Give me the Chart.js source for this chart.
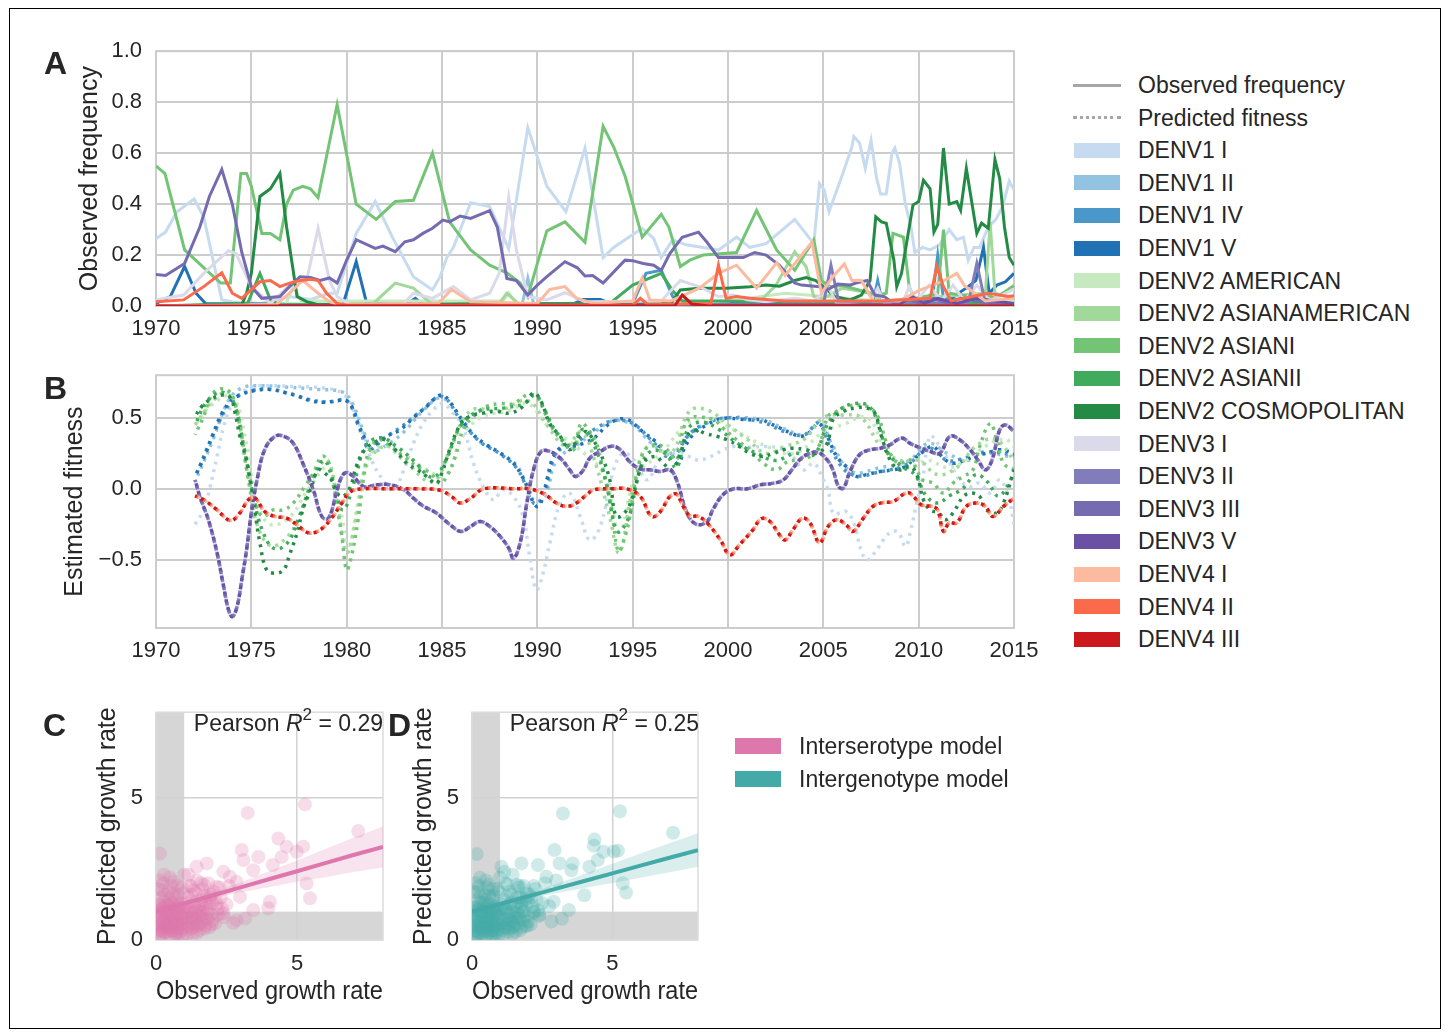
<!DOCTYPE html>
<html>
<head>
<meta charset="utf-8">
<script src="https://cdn.jsdelivr.net/npm/chart.js@4.4.0/dist/chart.umd.min.js"></script>
<style>
  body { margin: 0; background: #fff; }
  #page { position: relative; width: 1446px; height: 1032px; overflow: hidden;
          font-family: "Liberation Sans", Arial, sans-serif; color: #262626; }
  #page canvas { position: absolute; }
  .frame { position: absolute; left: 9px; top: 8px; width: 1432px; height: 1021px;
           border: 1.5px solid #000; box-sizing: border-box; }
  .letter { position: absolute; font-weight: bold; font-size: 32px; line-height: 36px; }
  .leg { position: absolute; font-size: 23px; line-height: 26px; white-space: nowrap; }
  .sw { position: absolute; width: 46px; height: 15px; }
  .pearson { position: absolute; font-size: 23px; line-height: 26px; white-space: nowrap; text-align: right; }
  .pearson sup { font-size: 17px; line-height: 0; position: relative; top: -2px; }
</style>
</head>
<body>
<div id="page">
  <div class="frame"></div>
  <canvas id="chartA" width="1010" height="336" style="left:40px;top:24px"></canvas>
  <canvas id="chartB" width="1010" height="322" style="left:40px;top:348px"></canvas>
  <canvas id="chartC" width="360" height="334" style="left:40px;top:686px"></canvas>
  <canvas id="chartD" width="330" height="334" style="left:400px;top:686px"></canvas>
  <div class="letter" style="left:44px;top:45px">A</div>
  <div class="letter" style="left:44px;top:370px">B</div>
  <div class="letter" style="left:43px;top:707px">C</div>
  <div class="letter" style="left:388px;top:707px">D</div>
  <div class="pearson" style="right:1063px;top:710px">Pearson <i>R</i><sup>2</sup> = 0.29</div>
  <div class="pearson" style="right:747px;top:710px">Pearson <i>R</i><sup>2</sup> = 0.25</div>
  <div id="legendRight"></div>
  <div id="legendModels"></div>
</div>
<script>
// ---------------- data ----------------
const genotypes = ['DENV1 I', 'DENV1 II', 'DENV1 IV', 'DENV1 V',
  'DENV2 AMERICAN', 'DENV2 ASIANAMERICAN', 'DENV2 ASIANI', 'DENV2 ASIANII', 'DENV2 COSMOPOLITAN',
  'DENV3 I', 'DENV3 II', 'DENV3 III', 'DENV3 V',
  'DENV4 I', 'DENV4 II', 'DENV4 III'];
const colors = ['#c6dbef', '#92c3e0', '#4a98c9', '#2171b5',
  '#c7e9c0', '#a1d99b', '#74c476', '#41ab5d', '#238b45',
  '#dadaeb', '#807dba', '#756bb1', '#6a51a3',
  '#fcbba1', '#fb6a4a', '#cb181d'];

const yearTicks = [1970, 1975, 1980, 1985, 1990, 1995, 2000, 2005, 2010, 2015];

// panel A: observed frequency, [year, frequency]
const obsD1I = [[1970,0.265],[1970.5,0.29],[1971.1,0.37],[1972,0.42],[1972.5,0.35],[1973.45,0.024],[1974,0.017],[1975.5,0.01],[1977,0.037],[1978.1,0.026],[1979.1,0.05],[1979.5,0.05],[1980.5,0.285],[1981.5,0.41],[1982.4,0.27],[1983.5,0.115],[1984.5,0.063],[1984.9,0.115],[1985.25,0.19],[1985.6,0.23],[1986.5,0.405],[1987.5,0.39],[1988.5,0.225],[1989.5,0.70],[1990.5,0.47],[1991.5,0.37],[1992.5,0.62],[1993.45,0.19],[1994,0.23],[1994.6,0.26],[1995.5,0.305],[1996.1,0.265],[1996.5,0.19],[1997.1,0.26],[1997.8,0.24],[1998.7,0.23],[1999.5,0.22],[2000.45,0.27],[2001.15,0.23],[2002,0.245],[2003.5,0.34],[2004.5,0.245],[2004.8,0.48],[2005.05,0.455],[2005.3,0.37],[2006,0.515],[2006.5,0.625],[2006.6,0.665],[2006.9,0.64],[2007.2,0.54],[2007.5,0.65],[2007.8,0.50],[2008,0.44],[2008.3,0.44],[2008.6,0.60],[2008.75,0.62],[2009,0.56],[2009.3,0.40],[2009.6,0.31],[2009.8,0.21],[2010.2,0.23],[2010.6,0.22],[2011.1,0.24],[2011.6,0.30],[2012,0.26],[2012.35,0.27],[2012.6,0.18],[2012.9,0.23],[2013.2,0.23],[2013.65,0.31],[2014.05,0.34],[2014.4,0.39],[2014.75,0.49],[2015,0.455]];
const obsD1II = [[1970,0],[1989.2,0.005],[1989.5,0.11],[1989.8,0.01],[2003,0.01],[2015,0.005]];
const obsD1IV = [[1970,0],[1995,0.01],[1995.7,0.128],[1996.5,0.14],[1997.1,0.037],[1997.6,0.005],[2007.6,0.01],[2007.85,0.10],[2008.1,0.01],[2010.7,0.02],[2011,0.20],[2011.3,0.03],[2015,0.01]];
const obsD1V = [[1970,0.01],[1970.75,0.037],[1971.5,0.155],[1972.1,0.05],[1972.6,0.01],[1979.8,0.005],[1980.5,0.174],[1981.05,0.01],[1983.2,0.01],[1983.6,0.03],[1984,0.005],[1991.8,0.005],[1992.4,0.026],[1993.3,0.026],[1994,0.005],[2011.5,0.02],[2012.6,0.076],[2013,0.1],[2013.4,0.23],[2013.7,0.05],[2014.1,0.082],[2014.55,0.095],[2015,0.128]];
const obsD2AM = [[1970,0],[1976.8,0.005],[1977.2,0.08],[1977.6,0.02],[1988.2,0.02],[1988.5,0.052],[1988.9,0.01],[1996,0.01],[2000,0.02],[2003,0.05],[2008,0.02],[2015,0.02]];
const obsD2AA = [[1970,0],[1981.4,0.01],[1982.55,0.09],[1983.5,0.07],[1984.5,0.005],[1988,0.01],[1988.4,0.05],[1989,0.01],[2001.5,0.005],[2002.5,0.08],[2003.5,0.213],[2004.1,0.154],[2004.5,0.037],[2005,0.03],[2006,0.07],[2007.6,0.05],[2008,0.02],[2013.5,0.05],[2013.75,0.33],[2014,0.05],[2015,0.03]];
const obsD2AI = [[1970,0.55],[1970.47,0.52],[1971.5,0.22],[1972.8,0.13],[1973.4,0.09],[1973.9,0.09],[1974.45,0.52],[1974.75,0.52],[1975,0.47],[1975.55,0.285],[1976,0.285],[1976.5,0.26],[1976.85,0.40],[1977.2,0.455],[1977.7,0.47],[1978.1,0.46],[1978.5,0.425],[1979.5,0.79],[1980.5,0.40],[1981.55,0.34],[1982.55,0.41],[1983.5,0.415],[1984.5,0.60],[1985.4,0.33],[1986.5,0.22],[1987.5,0.16],[1988.4,0.13],[1989.1,0.09],[1989.5,0.037],[1990.05,0.18],[1990.5,0.295],[1991.45,0.33],[1992.5,0.25],[1993.45,0.705],[1994,0.625],[1994.6,0.51],[1995.5,0.27],[1996.5,0.36],[1996.9,0.31],[1997.5,0.155],[1998,0.18],[1998.7,0.2],[1999.6,0.205],[2000.45,0.21],[2001.5,0.375],[2002.55,0.22],[2003.5,0.14],[2004.5,0.26],[2004.9,0.10],[2005.35,0.076],[2006,0.08],[2007,0.06],[2007.7,0.04],[2008.3,0.05],[2008.65,0.285],[2009.2,0.27],[2009.5,0.076],[2009.8,0.03],[2010.5,0.04],[2011,0.05],[2011.3,0.30],[2011.6,0.05],[2012.5,0.04],[2013,0.03],[2013.4,0.05],[2014,0.03],[2014.6,0.06],[2015,0.08]];
const obsD2AII = [[1970,0],[1974.8,0.01],[1975.45,0.128],[1976,0.024],[1976.5,0.005],[1993.8,0.01],[1995,0.082],[1996.5,0.128],[1997.1,0.06],[1997.6,0.02],[2000,0.02],[2005,0.01],[2015,0.01]];
const obsD2COS = [[1970,0],[1974.5,0.005],[1974.75,0.05],[1975,0.128],[1975.45,0.43],[1976,0.46],[1976.5,0.52],[1976.85,0.31],[1977.4,0.037],[1977.9,0.017],[1978.5,0.005],[1997,0.01],[1997.5,0.063],[1998.5,0.07],[1999.9,0.07],[2001.15,0.076],[2002,0.082],[2002.7,0.078],[2003.5,0.10],[2004.1,0.112],[2004.6,0.10],[2005.1,0.07],[2005.6,0.037],[2006.4,0.024],[2007,0.043],[2007.45,0.10],[2007.75,0.35],[2008.05,0.33],[2008.3,0.325],[2008.7,0.18],[2008.85,0.076],[2009.1,0.128],[2009.45,0.285],[2009.7,0.396],[2010,0.41],[2010.25,0.494],[2010.6,0.46],[2010.8,0.29],[2011,0.32],[2011.3,0.62],[2011.6,0.40],[2012,0.41],[2012.2,0.376],[2012.5,0.54],[2013.05,0.285],[2013.3,0.325],[2013.65,0.305],[2014,0.575],[2014.25,0.50],[2014.5,0.31],[2014.75,0.19],[2015,0.16]];
const obsD3I = [[1970,0.024],[1971.45,0.043],[1972.5,0.128],[1973.8,0.217],[1974.2,0.206],[1975,0.076],[1976,0.01],[1977.2,0.095],[1977.9,0.10],[1978.5,0.305],[1979.1,0.10],[1979.5,0.037],[1980.2,0.005],[1983,0.01],[1983.5,0.05],[1984.5,0.03],[1985.6,0.076],[1986.5,0.024],[1987.5,0.05],[1988,0.128],[1988.5,0.426],[1988.9,0.22],[1989.5,0.037],[1990.5,0.024],[1991.45,0.052],[1992.5,0.017],[1996.5,0.02],[1997.5,0.10],[1998.5,0.076],[1999.5,0.037],[2000.3,0.043],[2001,0.024],[2002,0.017],[2003.5,0.03],[2004.5,0.02],[2005.3,0.07],[2005.7,0.01],[2007.5,0.02],[2007.85,0.07],[2008.2,0.01],[2009.2,0.02],[2009.5,0.076],[2009.9,0.02],[2010.55,0.082],[2011.2,0.02],[2011.8,0.082],[2012.4,0.02],[2013.05,0.082],[2013.7,0.02],[2014.3,0.04],[2014.9,0.063],[2015,0.06]];
const obsD3II = [[1970,0],[2005,0.005],[2005.4,0.16],[2005.8,0.02],[2012.6,0.01],[2013.05,0.167],[2013.5,0.01],[2015,0.005]];
const obsD3III = [[1970,0.124],[1970.5,0.12],[1971.5,0.167],[1972.3,0.31],[1972.8,0.43],[1973.45,0.536],[1974,0.40],[1974.5,0.21],[1975,0.076],[1975.55,0.03],[1976.5,0.037],[1977,0.076],[1977.55,0.115],[1978.1,0.112],[1978.6,0.10],[1979.1,0.11],[1979.5,0.09],[1980,0.18],[1980.5,0.26],[1981.5,0.226],[1981.9,0.235],[1982.55,0.213],[1983.05,0.252],[1983.5,0.26],[1984,0.285],[1984.5,0.305],[1985.05,0.337],[1985.4,0.33],[1985.95,0.353],[1986.5,0.344],[1987.5,0.374],[1987.9,0.31],[1988.1,0.23],[1988.4,0.108],[1988.9,0.10],[1989.5,0.043],[1990,0.082],[1990.5,0.115],[1991.45,0.174],[1992.1,0.15],[1992.5,0.118],[1992.9,0.12],[1993.45,0.09],[1994.6,0.18],[1995,0.178],[1995.55,0.167],[1996.1,0.16],[1996.5,0.14],[1996.95,0.206],[1997.6,0.27],[1998.45,0.29],[1998.9,0.25],[1999.5,0.19],[2000.8,0.19],[2001.4,0.21],[2002,0.20],[2002.7,0.16],[2003.5,0.09],[2003.85,0.082],[2004.8,0.076],[2005.2,0.063],[2005.75,0.086],[2006.4,0.082],[2006.7,0.09],[2007.3,0.10],[2007.7,0.043],[2008.2,0.037],[2008.7,0.01],[2009.5,0.03],[2010,0.01],[2010.8,0.03],[2011.5,0.01],[2012.2,0.03],[2013,0.02],[2014,0.01],[2015,0.01]];
const obsD3V = [[1970,0],[2009,0.005],[2009.6,0.04],[2010.3,0.01],[2011,0.03],[2012,0.01],[2013,0.03],[2015,0.01]];
const obsD4I = [[1970,0],[1976.3,0.005],[1977,0.05],[1977.7,0.10],[1978.5,0.05],[1979.1,0.017],[1979.6,0.005],[1984.8,0.01],[1985.5,0.065],[1986.5,0.017],[1990,0.01],[1990.65,0.065],[1991.45,0.076],[1992.05,0.03],[1993,0.01],[1995,0.02],[1995.5,0.11],[1995.9,0.024],[1997,0.02],[1998.5,0.07],[1999.5,0.128],[2000.45,0.16],[2001.5,0.07],[2002.55,0.17],[2003,0.12],[2004.4,0.25],[2004.9,0.05],[2005.5,0.115],[2006.1,0.165],[2006.5,0.10],[2007,0.10],[2007.6,0.02],[2009,0.02],[2010,0.06],[2011.35,0.10],[2012,0.128],[2012.4,0.08],[2013.5,0.02],[2015,0.03]];
const obsD4II = [[1970,0.017],[1971.45,0.024],[1972.5,0.076],[1973.45,0.13],[1974,0.05],[1974.5,0.03],[1975.45,0.095],[1976,0.10],[1976.5,0.076],[1977,0.09],[1977.55,0.10],[1978.1,0.105],[1978.5,0.10],[1978.95,0.05],[1979.5,0.01],[1980,0.003],[1995,0.003],[1995.4,0.03],[1995.8,0.005],[1999.1,0.01],[1999.5,0.16],[1999.9,0.03],[2000.45,0.037],[2001.15,0.03],[2003,0.02],[2005,0.02],[2008,0.02],[2010.6,0.03],[2010.95,0.155],[2011.3,0.076],[2011.7,0.02],[2013.65,0.05],[2014.7,0.037],[2015,0.04]];
const obsD4III = [[1970,0],[1997.2,0],[1997.6,0.043],[1998.1,0.008],[1999,0],[2015,0]];

// panel B: estimated fitness, [year, fitness]
const fitD1I = [[1972.05,-0.25],[1972.5,-0.148],[1972.8,-0.007],[1973.2,0.228],[1973.55,0.44],[1974,0.60],[1974.4,0.67],[1975.1,0.72],[1976.15,0.725],[1977.4,0.72],[1978.8,0.71],[1979.8,0.67],[1980.35,0.556],[1980.9,0.37],[1981.3,0.204],[1981.9,0.063],[1982.45,-0.007],[1983,0.134],[1983.5,0.32],[1984,0.46],[1984.55,0.556],[1985.05,0.60],[1985.6,0.53],[1986.1,0.44],[1986.65,0.18],[1987.2,0.005],[1987.7,-0.077],[1988.2,-0.007],[1988.75,-0.054],[1989.25,-0.195],[1989.6,-0.476],[1989.95,-0.71],[1990.3,-0.594],[1990.65,-0.383],[1991.2,-0.10],[1991.7,-0.03],[1992.25,-0.195],[1992.75,-0.36],[1993.3,-0.265],[1994,0.134],[1994.5,0.25],[1995.1,0.2],[1995.75,0.063],[1996.45,0.204],[1997.5,0.25],[1998.35,0.204],[1998.9,0.216],[1999.6,0.263],[2000.3,0.298],[2001.15,0.293],[2002,0.298],[2002.7,0.286],[2003.4,0.228],[2003.95,0.134],[2004.5,0.18],[2005,0.063],[2005.25,-0.007],[2005.5,-0.17],[2005.9,-0.17],[2006.2,-0.16],[2006.6,-0.24],[2007,-0.44],[2007.3,-0.5],[2007.7,-0.45],[2008.15,-0.36],[2008.6,-0.30],[2008.95,-0.31],[2009.3,-0.405],[2009.55,-0.31],[2009.9,-0.10],[2010.2,0.063],[2010.6,0.37],[2011.1,0.30],[2011.65,0.18],[2012.15,0.063],[2012.7,0.016],[2013.2,0.04],[2013.75,-0.03],[2014.25,0.063],[2014.7,-0.054],[2015,-0.25]];
const fitD1II = [[1972.05,0.05],[1973,0.35],[1973.8,0.62],[1974.5,0.71],[1975.5,0.725],[1977,0.715],[1978.5,0.7],[1979.8,0.68],[1980.3,0.6],[1980.9,0.4],[1981.4,0.27],[1982,0.3],[1983,0.4],[1984,0.55],[1985,0.64],[1986,0.5],[1987,0.33],[1988,0.26],[1989,0.15],[1989.8,-0.08],[1990.4,-0.05],[1991,0.2],[1992,0.3],[1993,0.4],[1994,0.48],[1995,0.45],[1996,0.32],[1997,0.25],[1998,0.38],[1999,0.47],[2000,0.5],[2001,0.5],[2002,0.48],[2003,0.42],[2004,0.38],[2004.8,0.47],[2005.5,0.3],[2006.5,0.12],[2008,0.15],[2009.5,0.2],[2010.5,0.32],[2011.5,0.25],[2012.5,0.2],[2013.5,0.25],[2015,0.22]];
const fitD1IV = [[1972.05,0.08],[1973,0.38],[1974,0.62],[1975,0.69],[1976,0.7],[1977,0.67],[1978,0.63],[1979,0.61],[1980,0.62],[1980.6,0.45],[1981.2,0.28],[1982,0.36],[1983,0.45],[1984,0.56],[1985,0.65],[1986,0.48],[1987,0.33],[1988,0.25],[1989,0.13],[1989.8,-0.1],[1990.3,-0.06],[1991,0.25],[1992,0.32],[1993,0.42],[1994,0.48],[1995,0.46],[1996,0.34],[1997,0.22],[1998,0.39],[1999,0.47],[2000,0.5],[2001,0.49],[2002,0.46],[2003,0.4],[2004,0.38],[2004.75,0.46],[2005.5,0.25],[2006.5,0.1],[2008,0.12],[2009.5,0.18],[2010.5,0.29],[2011.5,0.2],[2012.5,0.22],[2013.5,0.26],[2015,0.24]];
const fitD1V = [[1972.05,0.09],[1972.3,0.157],[1972.65,0.263],[1973,0.39],[1973.45,0.53],[1973.9,0.615],[1974.4,0.66],[1975.1,0.69],[1976,0.70],[1976.7,0.68],[1977.4,0.655],[1978.1,0.62],[1978.8,0.61],[1979.5,0.62],[1980,0.62],[1980.35,0.556],[1980.6,0.46],[1980.9,0.37],[1981.2,0.275],[1981.6,0.32],[1982.1,0.37],[1982.8,0.415],[1983.5,0.50],[1984.2,0.58],[1984.55,0.627],[1985,0.66],[1985.4,0.615],[1986.1,0.474],[1986.65,0.38],[1987.35,0.31],[1988.05,0.25],[1988.75,0.18],[1989.2,0.087],[1989.55,-0.007],[1989.8,-0.1],[1990.05,-0.124],[1990.3,-0.054],[1990.5,0.063],[1990.85,0.228],[1991.35,0.30],[1991.9,0.30],[1992.4,0.32],[1993,0.36],[1993.6,0.44],[1994.15,0.486],[1994.7,0.49],[1995.05,0.46],[1995.55,0.40],[1996.2,0.333],[1996.5,0.286],[1996.95,0.228],[1997.4,0.18],[1997.75,0.298],[1998.3,0.40],[1998.9,0.45],[1999.4,0.486],[1999.95,0.498],[2000.6,0.49],[2001.3,0.486],[2001.75,0.486],[2002.2,0.46],[2002.7,0.43],[2003.35,0.39],[2003.85,0.37],[2004.3,0.40],[2004.75,0.46],[2005.2,0.37],[2005.7,0.228],[2006.2,0.157],[2006.75,0.087],[2007.25,0.1],[2008,0.122],[2008.65,0.134],[2009.3,0.157],[2009.7,0.204],[2010.25,0.263],[2010.75,0.298],[2011.3,0.216],[2011.8,0.18],[2012.5,0.204],[2013.05,0.24],[2013.55,0.25],[2014.25,0.275],[2015,0.25]];
const fitD2AM = [[1972.05,0.45],[1973,0.6],[1974,0.65],[1974.7,0.35],[1975.3,-0.1],[1976,-0.25],[1977,-0.2],[1978,0.0],[1979,0.15],[1979.6,-0.1],[1980.1,-0.4],[1980.6,-0.1],[1981.3,0.25],[1982.5,0.3],[1984,0.15],[1985.2,0.1],[1986,0.35],[1987,0.5],[1988.5,0.55],[1989.5,0.6],[1990.5,0.45],[1992,0.3],[1993.5,0.1],[1994.3,-0.3],[1995.2,0.1],[1996.5,0.25],[1997.8,0.45],[1999,0.5],[2000.5,0.4],[2002,0.3],[2003.5,0.25],[2005,0.4],[2006,0.45],[2007.3,0.5],[2008.2,0.3],[2009.3,0.15],[2010.5,0.2],[2011.5,0.15],[2012.5,0.2],[2013.5,0.3],[2014.5,0.35],[2015,0.3]];
const fitD2AA = [[1972.05,0.45],[1973,0.62],[1973.8,0.68],[1974.3,0.5],[1974.8,0.1],[1975.3,-0.25],[1976,-0.4],[1976.8,-0.35],[1977.5,-0.2],[1978.3,0.1],[1979,0.2],[1979.5,-0.1],[1980,-0.45],[1980.5,-0.2],[1981,0.15],[1982,0.3],[1983,0.2],[1984.5,0.05],[1985.5,0.3],[1986.5,0.55],[1988,0.55],[1989.5,0.62],[1990.5,0.45],[1991.5,0.3],[1992.3,0.4],[1993,0.2],[1993.8,-0.2],[1994.3,-0.45],[1995,0.0],[1995.8,0.3],[1997,0.25],[1998,0.55],[1999,0.55],[2000,0.45],[2001,0.35],[2002,0.25],[2003,0.3],[2004,0.35],[2005,0.5],[2006,0.52],[2007,0.5],[2008,0.3],[2009,0.2],[2010,0.2],[2011,0.1],[2012,0.15],[2013,0.3],[2014,0.35],[2015,0.2]];
const fitD2AI = [[1972.05,0.38],[1972.5,0.51],[1973,0.674],[1973.7,0.70],[1974.15,0.60],[1974.5,0.37],[1974.85,0.063],[1975.2,-0.1],[1975.6,-0.195],[1976.15,-0.148],[1976.7,-0.148],[1977.2,-0.1],[1977.8,0.016],[1978.25,0.11],[1978.7,0.228],[1979.05,0.19],[1979.4,-0.054],[1979.75,-0.335],[1980,-0.57],[1980.25,-0.476],[1980.6,-0.218],[1980.9,0.087],[1981.2,0.275],[1981.75,0.345],[1982.3,0.298],[1983,0.228],[1983.7,0.157],[1984.4,0.11],[1984.9,0.04],[1985.3,0.1],[1985.7,0.228],[1986.1,0.415],[1986.65,0.51],[1987.35,0.58],[1988.05,0.60],[1988.75,0.60],[1989.45,0.66],[1989.95,0.65],[1990.4,0.533],[1990.85,0.415],[1991.35,0.333],[1991.9,0.275],[1992.3,0.46],[1992.75,0.404],[1993.1,0.32],[1993.45,0.134],[1993.9,-0.148],[1994.25,-0.44],[1994.6,-0.335],[1994.85,-0.195],[1995.2,0.087],[1995.65,0.275],[1996.25,0.31],[1996.8,0.275],[1997.3,0.204],[1997.65,0.415],[1998,0.498],[1998.55,0.505],[1999.25,0.486],[1999.75,0.427],[2000.45,0.345],[2001.15,0.275],[2001.85,0.18],[2002.55,0.134],[2003.1,0.19],[2003.6,0.204],[2004.3,0.228],[2004.8,0.31],[2005.25,0.51],[2005.7,0.545],[2006.2,0.58],[2006.9,0.59],[2007.45,0.57],[2007.9,0.498],[2008.25,0.345],[2008.6,0.228],[2009,0.18],[2009.55,0.204],[2009.9,0.134],[2010.2,0.063],[2010.75,0.04],[2011.3,-0.03],[2011.8,0.04],[2012.35,0.087],[2012.85,0.134],[2013.2,0.298],[2013.75,0.46],[2014.1,0.345],[2014.45,0.18],[2015,0.134]];
const fitD2AII = [[1972.05,0.45],[1972.7,0.62],[1973.5,0.68],[1974.1,0.6],[1974.6,0.3],[1975.1,-0.05],[1975.6,-0.3],[1976.2,-0.42],[1976.9,-0.38],[1977.5,-0.2],[1978.2,0.05],[1978.8,0.2],[1979.3,0.05],[1979.8,-0.15],[1980.4,0.05],[1981,0.3],[1981.8,0.36],[1982.6,0.3],[1983.5,0.2],[1984.5,0.08],[1985.2,0.2],[1986,0.45],[1987,0.55],[1988.3,0.57],[1989.3,0.6],[1989.9,0.66],[1990.4,0.55],[1991,0.4],[1991.8,0.3],[1992.4,0.42],[1993,0.3],[1993.6,0.05],[1994.2,-0.3],[1994.8,-0.2],[1995.3,0.1],[1995.9,0.26],[1996.7,0.25],[1997.3,0.15],[1997.9,0.42],[1998.6,0.47],[1999.5,0.42],[2000.5,0.32],[2001.5,0.25],[2002.5,0.2],[2003.5,0.25],[2004.5,0.24],[2005.2,0.45],[2005.8,0.55],[2006.6,0.6],[2007.4,0.58],[2007.9,0.45],[2008.4,0.25],[2009.2,0.15],[2009.8,0.1],[2010.4,-0.05],[2011,-0.1],[2011.6,-0.05],[2012.3,0.0],[2013,0.1],[2013.6,0.05],[2014.2,-0.05],[2015,0.1]];
const fitD2COS = [[1972.05,0.51],[1972.4,0.58],[1972.85,0.627],[1973.45,0.66],[1973.9,0.64],[1974.15,0.533],[1974.4,0.37],[1974.7,0.228],[1974.95,0.063],[1975.2,-0.17],[1975.45,-0.38],[1975.8,-0.57],[1976.25,-0.594],[1976.7,-0.57],[1977,-0.465],[1977.4,-0.31],[1977.7,-0.148],[1978.1,-0.007],[1978.5,0.134],[1978.85,0.11],[1979.2,0.063],[1979.5,-0.03],[1979.8,-0.054],[1980.2,0.016],[1980.5,0.157],[1980.95,0.275],[1981.55,0.333],[1982,0.345],[1982.55,0.275],[1983.15,0.18],[1983.7,0.134],[1984.2,0.087],[1984.7,0.04],[1985.05,0.134],[1985.4,0.275],[1985.95,0.45],[1986.45,0.51],[1987.15,0.533],[1987.85,0.545],[1988.55,0.533],[1989.25,0.58],[1989.8,0.674],[1990.2,0.615],[1990.65,0.46],[1991.2,0.37],[1991.7,0.275],[1992.25,0.37],[1992.6,0.40],[1993.3,0.25],[1993.8,0.063],[1994.15,-0.195],[1994.7,-0.148],[1995.1,-0.007],[1995.55,0.18],[1996.2,0.228],[1996.6,0.18],[1997.05,0.134],[1997.5,0.25],[1997.85,0.37],[1998.3,0.415],[1998.8,0.39],[1999.4,0.37],[1999.95,0.345],[2000.6,0.298],[2001.15,0.25],[2001.75,0.228],[2002.4,0.25],[2002.9,0.275],[2003.4,0.286],[2004.1,0.275],[2004.65,0.25],[2005.2,0.32],[2005.5,0.486],[2006.05,0.545],[2006.75,0.57],[2007.25,0.57],[2007.7,0.533],[2008.05,0.37],[2008.5,0.204],[2009,0.134],[2009.55,0.157],[2009.9,0.1],[2010.25,-0.077],[2010.6,-0.148],[2011.05,-0.17],[2011.4,-0.218],[2011.8,-0.17],[2012.35,-0.054],[2012.8,-0.03],[2013.2,-0.054],[2013.55,-0.148],[2014.1,-0.17],[2014.45,-0.1],[2015,0.134]];
// the DENV3 genotypes sit on one curve in the figure, as do the DENV4 genotypes
const fitDenv3 = [[1972.05,0.063],[1972.3,-0.054],[1972.75,-0.22],[1973.2,-0.45],[1973.55,-0.69],[1973.8,-0.85],[1974,-0.9],[1974.25,-0.83],[1974.5,-0.64],[1974.75,-0.43],[1975,-0.17],[1975.3,0.063],[1975.7,0.275],[1976.25,0.37],[1976.7,0.37],[1977.2,0.32],[1977.7,0.18],[1978.25,-0.007],[1978.7,-0.195],[1979.05,-0.207],[1979.5,-0.007],[1979.75,0.087],[1980,0.115],[1980.35,0.087],[1980.9,0.016],[1981.6,0.028],[1982.3,0.028],[1983,-0.007],[1983.5,-0.066],[1984,-0.12],[1984.7,-0.17],[1985.4,-0.25],[1986,-0.30],[1986.5,-0.265],[1987,-0.23],[1987.5,-0.265],[1988.05,-0.335],[1988.5,-0.418],[1988.75,-0.49],[1989.1,-0.38],[1989.45,-0.10],[1989.8,0.134],[1990.2,0.263],[1990.65,0.263],[1991.2,0.216],[1991.7,0.134],[1992,0.087],[1992.4,0.13],[1992.75,0.216],[1993.3,0.263],[1993.9,0.30],[1994.35,0.275],[1994.85,0.19],[1995.4,0.14],[1995.9,0.134],[1996.45,0.122],[1996.95,0.134],[1997.3,0.063],[1997.85,-0.17],[1998.35,-0.25],[1998.9,-0.23],[1999.2,-0.148],[1999.75,-0.04],[2000.3,0],[2001,0],[2001.7,0.028],[2002.4,0.04],[2002.9,0.063],[2003.35,0.134],[2003.8,0.21],[2004.3,0.25],[2004.75,0.255],[2005.2,0.204],[2005.5,0.134],[2005.8,0.016],[2006.05,0.005],[2006.4,0.122],[2006.9,0.24],[2007.45,0.275],[2008,0.286],[2008.5,0.31],[2009.1,0.357],[2009.55,0.32],[2010.05,0.29],[2010.6,0.263],[2011.1,0.25],[2011.65,0.37],[2012.15,0.345],[2012.7,0.275],[2013.1,0.204],[2013.5,0.134],[2013.85,0.204],[2014.25,0.415],[2014.55,0.45],[2015,0.404]];
const fitDenv4 = [[1972.05,-0.05],[1972.5,-0.077],[1973.2,-0.148],[1973.9,-0.223],[1974.4,-0.17],[1974.85,-0.077],[1975.2,-0.066],[1975.7,-0.16],[1976.25,-0.195],[1976.85,-0.207],[1977.4,-0.254],[1978,-0.31],[1978.6,-0.29],[1979.2,-0.207],[1979.75,-0.10],[1980.2,-0.02],[1980.9,0],[1982.3,0],[1983.7,0],[1984.9,-0.01],[1985.5,-0.054],[1985.95,-0.1],[1986.5,-0.066],[1987.2,0],[1988.9,0],[1989.6,0],[1990.4,-0.04],[1991,-0.1],[1991.55,-0.124],[1992.05,-0.1],[1992.6,-0.04],[1992.95,-0.007],[1994,0],[1994.7,0],[1995.4,-0.054],[1996,-0.195],[1996.45,-0.16],[1996.95,-0.054],[1997.3,-0.038],[1997.65,-0.124],[1998,-0.19],[1998.45,-0.195],[1998.95,-0.246],[1999.6,-0.36],[2000.1,-0.465],[2000.6,-0.394],[2001.3,-0.29],[2001.75,-0.21],[2002.2,-0.23],[2002.7,-0.324],[2003,-0.36],[2003.4,-0.29],[2003.9,-0.207],[2004.3,-0.24],[2004.8,-0.38],[2005.25,-0.265],[2005.7,-0.218],[2006.2,-0.254],[2006.55,-0.30],[2007.1,-0.207],[2007.6,-0.124],[2008.15,-0.096],[2008.65,-0.09],[2009.4,-0.026],[2009.7,-0.05],[2010.15,-0.113],[2010.7,-0.124],[2011,-0.15],[2011.3,-0.30],[2011.6,-0.24],[2012,-0.24],[2012.5,-0.124],[2013.05,-0.1],[2013.5,-0.124],[2013.9,-0.195],[2014.45,-0.124],[2015,-0.066]];

// panels C and D: [observed growth rate, predicted growth rate]
const interserotype = [[3.25,4.48],[5.28,4.78],[7.17,3.84],[4.34,3.58],[4.63,3.29],[5.22,3.29],[4.99,3.11],[4.46,2.93],[4.14,2.64],[3.63,2.93],[3.04,3.17],[3.1,2.82],[3.45,2.46],[2.86,2.05],[5.34,1.99],[5.46,1.47],[4.04,1.35],[3.98,1.12],[3.45,1.06],[2.86,0.7],[0.14,3.05],[1.8,2.7],[2.39,2.41],[1.44,2.58],[2.62,2.23],[2.15,1.88],[2.98,1.52],[2.39,0.94],[3.16,0.76],[2.74,0.6],
  [0.05,0.3],[0.1,0.6],[0.15,1.0],[0.2,1.5],[0.25,2.0],[0.3,0.45],[0.35,0.8],[0.4,1.25],[0.45,1.7],[0.5,2.2],[0.55,0.35],[0.6,0.7],[0.65,1.1],[0.7,1.45],[0.75,1.9],[0.8,0.5],[0.85,0.9],[0.9,1.3],[0.95,1.65],[1.0,2.3],[0.08,1.8],[0.28,2.3],[0.12,1.25],[0.62,1.6],[0.42,0.55],[0.72,0.25],[0.18,0.75],
  [1.05,0.6],[1.1,1.0],[1.15,1.5],[1.2,1.9],[1.25,0.4],[1.3,0.8],[1.35,1.2],[1.4,1.65],[1.45,2.1],[1.5,0.55],[1.55,1.0],[1.6,1.4],[1.65,1.8],[1.7,0.7],[1.75,1.1],[1.8,1.55],[1.85,2.0],[1.9,0.45],[1.95,0.9],[2.0,1.3],[2.05,1.7],[2.1,0.6],[2.2,1.1],[2.3,1.5],[2.4,0.8],[2.5,1.25],[1.15,2.3],[2.6,1.9],[1.3,0.25],[0.95,0.15],
  [0.05,0.5],[0.1,0.8],[0.15,0.35],[0.2,1.1],[0.25,0.65],[0.3,1.35],[0.35,0.25],[0.4,0.95],[0.45,0.4],[0.5,1.15],[0.55,0.85],[0.6,0.5],[0.65,1.3],[0.7,0.95],[0.75,0.6],[0.8,1.2],[0.85,0.3],[0.9,0.75],[0.95,1.05],[0.02,1.05],[0.22,1.75],[0.48,1.45],[0.78,1.6],[0.32,0.55],[0.58,0.95],[0.88,0.55],[0.12,0.2],[0.38,0.3],[0.68,0.2],
  [1.05,0.85],[1.1,1.3],[1.15,0.5],[1.2,1.05],[1.25,1.6],[1.3,0.6],[1.35,0.95],[1.4,1.35],[1.45,0.7],[1.5,1.15],[1.55,0.35],[1.6,0.85],[1.65,1.25],[1.7,1.55],[1.75,0.5],[1.8,0.95],[1.9,1.25],[2.0,0.7],[2.1,1.45],[2.2,0.9],[1.25,1.9],[1.6,2.0],[1.95,1.6],[2.25,1.85],[0.15,2.1],[0.55,1.9],
  [0.03,0.7],[0.07,0.4],[0.11,1.2],[0.14,0.55],[0.19,0.9],[0.23,0.3],[0.27,1.15],[0.31,0.75],[0.34,1.0],[0.37,0.5],[0.41,0.7],[0.44,1.2],[0.47,0.9],[0.51,0.45],[0.53,0.65],[0.57,1.25],[0.61,0.3],[0.63,0.85],[0.67,0.55],[0.71,1.1],[0.74,0.8],[0.77,0.4],[0.81,0.95],[0.84,0.65],[0.87,1.15],[0.91,0.4],[0.94,0.85],[0.97,0.6],[1.02,1.15],[1.07,0.4],[1.12,0.75],[1.17,1.2],[1.22,0.65],[1.27,1.0],[1.32,0.45],[1.37,0.75],[1.42,1.05],[1.47,0.5],[1.52,0.85],[1.57,1.25],[1.62,0.6],[1.67,0.95],[1.72,0.4],[1.77,1.3],[1.82,0.75],[1.87,1.05],[1.92,1.5],[1.97,0.55],[0.2,0.2],[0.5,0.18],[0.8,0.22],[1.1,0.2],[1.45,0.25],[0.3,1.6],[0.6,2.05],[0.9,1.85],[1.35,1.75],[1.7,1.95],[2.15,1.25],[2.35,1.1]];
const intergenotype = [[3.24,4.46],[5.27,4.54],[7.16,3.78],[4.36,3.54],[4.34,3.32],[4.68,3.11],[5.2,3.15],[5.05,3.12],[4.48,2.82],[4.18,2.58],[3.59,2.7],[3.12,2.7],[2.94,3.17],[3.54,2.46],[5.37,2.0],[5.49,1.67],[4.0,1.58],[2.91,1.35],[3.45,1.06],[2.83,0.65],[3.2,0.75],[0.17,3.03],[1.76,2.7],[2.35,2.64],[1.05,2.58],[2.65,2.23],[2.2,1.9],[3.0,2.1],[2.4,0.9],[2.75,1.2],
  [0.05,0.25],[0.1,0.5],[0.15,0.9],[0.2,1.4],[0.25,1.9],[0.3,0.4],[0.35,0.85],[0.4,1.3],[0.45,1.6],[0.5,2.1],[0.55,0.3],[0.6,0.7],[0.65,1.0],[0.7,1.5],[0.75,1.8],[0.8,0.45],[0.85,0.95],[0.9,1.2],[0.95,1.7],[1.0,2.2],[0.08,1.7],[0.28,2.2],[0.12,1.15],[0.62,1.55],[0.42,0.6],[0.72,0.3],[0.18,0.7],
  [1.05,0.55],[1.1,1.1],[1.15,1.4],[1.2,2.0],[1.25,0.45],[1.3,0.75],[1.35,1.25],[1.4,1.6],[1.45,2.3],[1.5,0.5],[1.55,0.95],[1.6,1.5],[1.65,1.85],[1.7,0.75],[1.75,1.2],[1.8,1.45],[1.85,1.9],[1.9,0.5],[1.95,0.85],[2.0,1.35],[2.05,1.6],[2.1,0.55],[2.2,1.0],[2.3,1.4],[2.4,0.85],[2.5,1.3],[1.15,2.4],[2.6,2.0],[1.3,0.3],[0.95,0.2],
  [0.05,0.45],[0.1,0.75],[0.15,0.3],[0.2,1.05],[0.25,0.6],[0.3,1.3],[0.35,0.2],[0.4,1.0],[0.45,0.35],[0.5,1.1],[0.55,0.8],[0.6,0.45],[0.65,1.25],[0.7,0.9],[0.75,0.55],[0.8,1.15],[0.85,0.25],[0.9,0.7],[0.95,1.0],[0.02,1.0],[0.22,1.7],[0.48,1.4],[0.78,1.55],[0.32,0.5],[0.58,1.0],[0.88,0.5],[0.12,0.18],[0.38,0.25],[0.68,0.18],
  [1.05,0.8],[1.1,1.25],[1.15,0.45],[1.2,1.1],[1.25,1.55],[1.3,0.55],[1.35,0.9],[1.4,1.3],[1.45,0.65],[1.5,1.2],[1.55,0.3],[1.6,0.8],[1.65,1.3],[1.7,1.5],[1.75,0.45],[1.8,1.0],[1.9,1.2],[2.0,0.65],[2.1,1.5],[2.2,0.95],[1.25,1.95],[1.6,1.95],[1.95,1.65],[2.25,1.8],[0.15,2.0],[0.55,1.85],
  [0.03,0.65],[0.07,0.35],[0.11,1.15],[0.14,0.5],[0.19,0.85],[0.23,0.25],[0.27,1.1],[0.31,0.7],[0.34,0.95],[0.37,0.45],[0.41,0.65],[0.44,1.15],[0.47,0.85],[0.51,0.4],[0.53,0.6],[0.57,1.2],[0.61,0.25],[0.63,0.8],[0.67,0.5],[0.71,1.05],[0.74,0.75],[0.77,0.35],[0.81,0.9],[0.84,0.6],[0.87,1.1],[0.91,0.35],[0.94,0.8],[0.97,0.55],[1.02,1.1],[1.07,0.35],[1.12,0.7],[1.17,1.15],[1.22,0.6],[1.27,0.95],[1.32,0.4],[1.37,0.7],[1.42,1.0],[1.47,0.45],[1.52,0.8],[1.57,1.2],[1.62,0.55],[1.67,0.9],[1.72,0.35],[1.77,1.25],[1.82,0.7],[1.87,1.0],[1.92,1.45],[1.97,0.5],[0.2,0.17],[0.5,0.15],[0.8,0.2],[1.1,0.18],[1.45,0.22],[0.3,1.55],[0.6,1.95],[0.9,1.8],[1.35,1.7],[1.7,1.9],[2.15,1.2],[2.35,1.05]];
// regression fit and 95% band, at x = 0..8
const fitX = [0, 1, 2, 3, 4, 5, 6, 7, 8.05];
const seroFit = [1.0, 1.285, 1.57, 1.855, 2.14, 2.425, 2.71, 2.995, 3.28];
const seroLow = [0.85, 1.2, 1.47, 1.68, 1.86, 2.05, 2.21, 2.4, 2.56];
const seroHigh = [1.15, 1.37, 1.67, 2.03, 2.42, 2.8, 3.21, 3.6, 4.0];
const genoFit = [1.0, 1.27, 1.54, 1.81, 2.08, 2.35, 2.62, 2.89, 3.17];
const genoLow = [0.86, 1.2, 1.45, 1.65, 1.83, 2.01, 2.19, 2.38, 2.58];
const genoHigh = [1.14, 1.34, 1.63, 1.97, 2.33, 2.69, 3.05, 3.4, 3.76];

const observed = [obsD1I, obsD1II, obsD1IV, obsD1V, obsD2AM, obsD2AA, obsD2AI, obsD2AII, obsD2COS,
  obsD3I, obsD3II, obsD3III, obsD3V, obsD4I, obsD4II, obsD4III];
const fitness = [fitD1I, fitD1II, fitD1IV, fitD1V, fitD2AM, fitD2AA, fitD2AI, fitD2AII, fitD2COS,
  fitDenv3, fitDenv3, fitDenv3, fitDenv3, fitDenv4, fitDenv4, fitDenv4];

// ---------------- helpers ----------------
Chart.defaults.font.family = '"Liberation Sans", Arial, sans-serif';
Chart.defaults.color = '#262626';

const toXY = pts => pts.map(p => ({ x: p[0], y: p[1] }));
const minus = v => (v < 0 ? '\u2212' : '') + Math.abs(v).toFixed(1);

const frameBox = {
  id: 'frameBox',
  beforeDatasetsDraw(chart, args, opts) {
    const { ctx, chartArea: a } = chart;
    ctx.save();
    ctx.strokeStyle = opts.color || '#cccccc';
    ctx.lineWidth = opts.width || 2;
    ctx.strokeRect(a.left, a.top, a.right - a.left, a.bottom - a.top);
    ctx.restore();
  }
};

const shade = {
  id: 'shade',
  beforeDraw(chart) {
    const { ctx, chartArea: a, scales: { x, y } } = chart;
    const x1 = x.getPixelForValue(1);
    const y1 = y.getPixelForValue(1);
    ctx.save();
    ctx.fillStyle = '#d6d6d6';
    ctx.fillRect(a.left, a.top, x1 - a.left, a.bottom - a.top);
    ctx.fillRect(x1, y1, a.right - x1, a.bottom - y1);
    ctx.restore();
  }
};

// note: the top of each plot area comes from the y tick padding (half label + padding), not layout.padding
function timeChart(id, series, opts) {
  return new Chart(document.getElementById(id), {
    type: 'line',
    data: {
      datasets: genotypes.map((g, i) => ({
        label: g,
        data: toXY(series[i]),
        borderColor: colors[i],
        borderWidth: opts.lineWidth,
        borderDash: opts.dash,
        borderDashOffset: opts.dash ? i * 1.7 : 0,
        pointRadius: 0,
        tension: opts.tension,
        fill: false,
        order: genotypes.length - i
      }))
    },
    options: {
      responsive: false, animation: false, devicePixelRatio: 1,
      layout: { padding: { left: 0, right: 36, top: 0, bottom: 0 } },
      plugins: { legend: { display: false }, tooltip: { enabled: false }, frameBox: { color: '#cccccc', width: 2 } },
      scales: {
        x: {
          type: 'linear', min: 1970, max: 2015,
          afterBuildTicks: s => { s.ticks = yearTicks.map(v => ({ value: v })); },
          ticks: { callback: v => String(v), padding: 10, font: { size: 22 }, maxRotation: 0 },
          grid: { color: '#cccccc', lineWidth: 2, drawTicks: false },
          border: { display: false },
          afterFit: s => { s.height = opts.xHeight; }
        },
        y: {
          min: opts.yMin, max: opts.yMax,
          ticks: { stepSize: opts.yStep, includeBounds: false, callback: minus, padding: 14, font: { size: 22 } },
          grid: { color: '#cccccc', lineWidth: 2, drawTicks: false },
          border: { display: false },
          title: { display: true, text: opts.yTitle, font: { size: 25 }, padding: { top: opts.titlePad, bottom: 0 } },
          afterFit: s => { s.width = 116; }
        }
      }
    },
    plugins: [frameBox]
  });
}

timeChart('chartA', observed, { lineWidth: 3, tension: 0, xHeight: 54,
  yMin: 0, yMax: 1, yStep: 0.2, yTitle: 'Observed frequency', titlePad: 35 });
timeChart('chartB', fitness, { lineWidth: 3.5, dash: [3, 5], tension: 0.4, xHeight: 42,
  yMin: -0.98, yMax: 0.8, yStep: 0.5, yTitle: 'Estimated fitness', titlePad: 20 });

function growthChart(id, pts, fit, low, high, color, rgb, yAxisWidth, padRight, titlePad) {
  const line = ys => fitX.map((x, i) => ({ x, y: ys[i] }));
  return new Chart(document.getElementById(id), {
    type: 'scatter',
    data: {
      datasets: [
        { type: 'line', data: line(low), borderWidth: 0, borderColor: 'rgba(0,0,0,0)', pointRadius: 0, fill: false, order: 3 },
        { type: 'line', data: line(high), borderWidth: 0, borderColor: 'rgba(0,0,0,0)', pointRadius: 0,
          fill: '-1', backgroundColor: 'rgba(' + rgb + ',0.2)', order: 2 },
        { type: 'line', data: line(fit), borderWidth: 4, borderColor: color, pointRadius: 0, fill: false, order: 1 },
        { data: toXY(pts), pointRadius: 7, pointBorderWidth: 0, backgroundColor: 'rgba(' + rgb + ',0.25)', clip: 0, order: 4 }
      ]
    },
    options: {
      responsive: false, animation: false, devicePixelRatio: 1,
      layout: { padding: { left: 0, right: padRight, top: 0, bottom: 0 } },
      plugins: { legend: { display: false }, tooltip: { enabled: false }, frameBox: { color: '#dcdcdc', width: 1.5 } },
      scales: {
        x: {
          type: 'linear', min: 0, max: 8.05,
          ticks: { stepSize: 5, includeBounds: false, padding: 11, font: { size: 22 } },
          grid: { color: '#d2d2d2', lineWidth: 1.5, drawTicks: false },
          border: { display: false },
          title: { display: true, text: 'Observed growth rate', font: { size: 26 }, padding: { top: 0, bottom: 13 } },
          afterFit: s => { s.height = 80; }
        },
        y: {
          type: 'linear', min: 0, max: 8.03,
          ticks: { stepSize: 5, includeBounds: false, padding: 13, font: { size: 22 } },
          grid: { color: '#d2d2d2', lineWidth: 1.5, drawTicks: false },
          border: { display: false },
          title: { display: true, text: 'Predicted growth rate', font: { size: 25 }, padding: { top: titlePad, bottom: 0 } },
          afterFit: s => { s.width = yAxisWidth; }
        }
      }
    },
    plugins: [shade, frameBox]
  });
}

growthChart('chartC', interserotype, seroFit, seroLow, seroHigh, '#de77ab', '222,119,171', 116, 17, 53);
growthChart('chartD', intergenotype, genoFit, genoLow, genoHigh, '#44aaa8', '68,170,168', 72, 32, 9);

// ---------------- legends (HTML) ----------------
const legendRight = document.getElementById('legendRight');
let html = '';
const rowTop = i => 85 + i * 32.6;
html += '<div style="position:absolute;left:1073px;top:' + (rowTop(0) - 1.5) + 'px;width:48px;height:0;border-top:3px solid #a6a6a6"></div>';
html += '<div style="position:absolute;left:1073px;top:' + (rowTop(1) - 1.5) + 'px;width:48px;height:0;border-top:3px dotted #a6a6a6"></div>';
html += '<div class="leg" style="left:1138px;top:' + (rowTop(0) - 13) + 'px">Observed frequency</div>';
html += '<div class="leg" style="left:1138px;top:' + (rowTop(1) - 13) + 'px">Predicted fitness</div>';
genotypes.forEach((g, i) => {
  const c = rowTop(i + 2);
  html += '<div class="sw" style="left:1074px;top:' + (c - 7.5) + 'px;background:' + colors[i] + '"></div>';
  html += '<div class="leg" style="left:1138px;top:' + (c - 13) + 'px">' + g + '</div>';
});
legendRight.innerHTML = html;

const models = [['Interserotype model', '#de77ab'], ['Intergenotype model', '#44aaa8']];
document.getElementById('legendModels').innerHTML = models.map((m, i) => {
  const c = 746 + i * 33;
  return '<div class="sw" style="left:735px;top:' + (c - 8) + 'px;height:16px;background:' + m[1] + '"></div>' +
         '<div class="leg" style="left:799px;top:' + (c - 13) + 'px">' + m[0] + '</div>';
}).join('');
</script>
</body>
</html>
